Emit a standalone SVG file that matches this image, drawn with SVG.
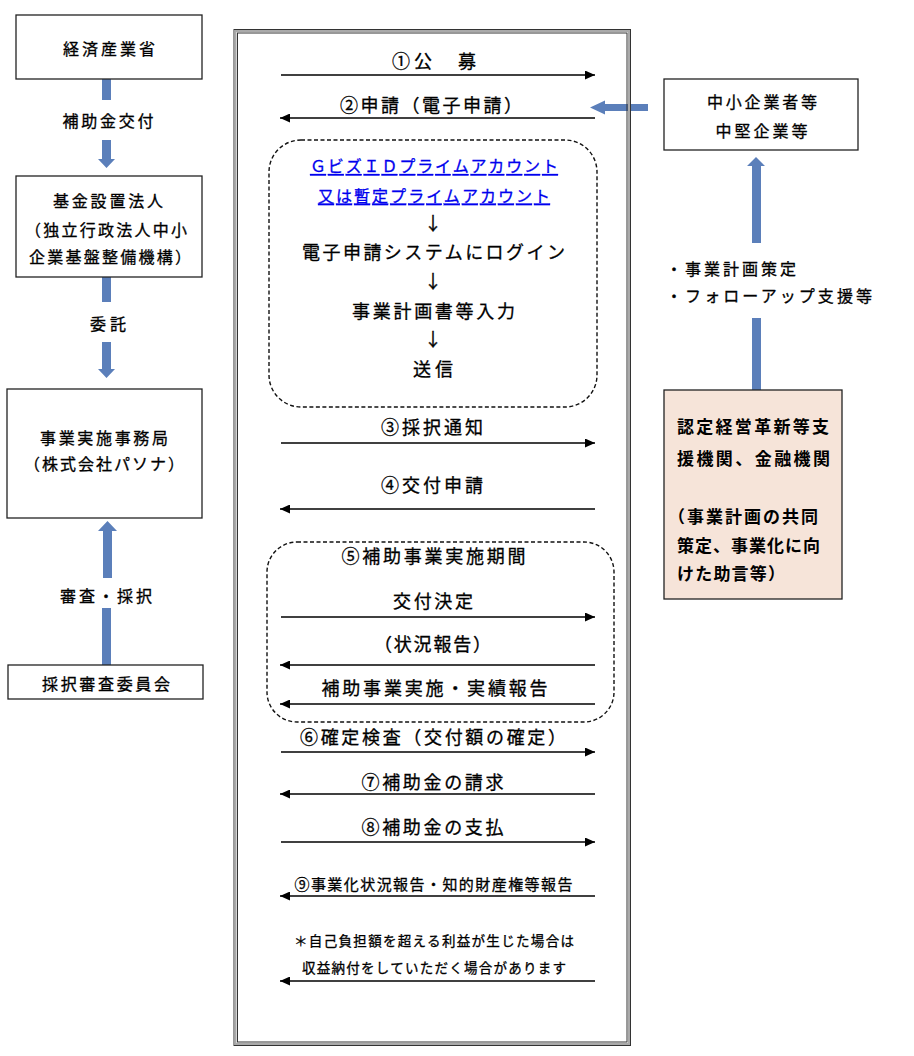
<svg xmlns="http://www.w3.org/2000/svg" width="914" height="1056" viewBox="0 0 914 1056">
<defs>
<marker id="ah" markerUnits="userSpaceOnUse" markerWidth="10" markerHeight="9" refX="10" refY="4.5" orient="auto">
<path d="M0,0 L10,4.5 L0,9 z" fill="#000"/>
</marker>
<style>
text{font-family:"Noto Sans CJK JP","Noto Sans CJK SC",sans-serif;fill:#000;stroke:#000;stroke-width:0.3;dominant-baseline:central;}
.c{text-anchor:middle;}
.s{text-anchor:start;}
.f16{font-size:16px;}
.f18{font-size:18px;}
.f15{font-size:15px;}
.f13{font-size:13.5px;}
.b{font-weight:bold;font-size:17px;stroke-width:0;}
.link{fill:#0000ee;stroke:#0000ee;font-size:16px;text-decoration:underline;}
.box{fill:#fff;stroke:#222;stroke-width:1.3;}
.dash{fill:none;stroke:#111;stroke-width:1.4;stroke-dasharray:4 2.5;}
.ln{stroke:#000;stroke-width:1.3;fill:none;marker-end:url(#ah);}
.blue{fill:#5b7fba;}
</style>
</defs>
<rect width="914" height="1056" fill="#fff"/>

<g id="connectors">
<rect class="blue" x="102" y="79" width="9" height="21"/>
<polygon class="blue" points="102,140 111,140 111,159 115,159 106.5,168 98,159 102,159"/>
<rect class="blue" x="102" y="276" width="9" height="26"/>
<polygon class="blue" points="102,342 111,342 111,369 115,369 106.5,378 98,369 102,369"/>
<polygon class="blue" points="103,578 112,578 112,531 117,531 107.5,521 98,531 103,531"/>
<rect class="blue" x="102" y="608" width="9" height="57"/>
<polygon class="blue" points="752,243 761,243 761,166 765,166 756,157 747,166 752,166"/>
<rect class="blue" x="752" y="318" width="9" height="72"/>
<polygon class="blue" points="648,104 605,104 605,100.5 590,107.5 605,114.5 605,111 648,111"/>
<line class="ln" x1="281" y1="75" x2="595" y2="75"/>
<line class="ln" x1="595" y1="118" x2="280" y2="118"/>
<line class="ln" x1="281" y1="443" x2="595" y2="443"/>
<line class="ln" x1="595" y1="509" x2="280" y2="509"/>
<line class="ln" x1="281" y1="617" x2="595" y2="617"/>
<line class="ln" x1="595" y1="665" x2="280" y2="665"/>
<line class="ln" x1="595" y1="704" x2="280" y2="704"/>
<line class="ln" x1="281" y1="752" x2="595" y2="752"/>
<line class="ln" x1="595" y1="794" x2="280" y2="794"/>
<line class="ln" x1="281" y1="842" x2="595" y2="842"/>
<line class="ln" x1="595" y1="896" x2="280" y2="896"/>
<line class="ln" x1="595" y1="981" x2="280" y2="981"/>
</g>

<g id="frame">
<rect x="234" y="29.5" width="396.5" height="1016" fill="none" stroke="#333" stroke-width="1"/>
<rect x="235.5" y="31" width="393.5" height="1013" fill="none" stroke="#aaa" stroke-width="2"/>
<rect x="237.5" y="33" width="389.5" height="1009" fill="none" stroke="#333" stroke-width="1"/>
</g>

<g id="meti">
<rect class="box" x="16" y="15" width="186" height="64"/>
<text class="c f16" x="109" y="48" textLength="92">経済産業省</text>
</g>
<g id="label-hojokin">
<text class="c f16" x="108" y="120" textLength="91">補助金交付</text>
</g>
<g id="kikin">
<rect class="box" x="16" y="176" width="186" height="101"/>
<text class="c f16" x="108" y="200" textLength="110">基金設置法人</text>
<text class="c f16" x="106" y="229" textLength="162">（独立行政法人中小</text>
<text class="c f16" x="110" y="256" textLength="162">企業基盤整備機構）</text>
</g>
<g id="label-itaku">
<text class="c f16" x="108" y="323" textLength="36">委託</text>
</g>
<g id="jimukyoku">
<rect class="box" x="7" y="389" width="195" height="129"/>
<text class="c f16" x="104" y="437" textLength="128">事業実施事務局</text>
<text class="c f16" x="104" y="463" textLength="160">（株式会社パソナ）</text>
</g>
<g id="label-shinsa">
<text class="c f16" x="106" y="595" textLength="92">審査・採択</text>
</g>
<g id="iinkai">
<rect class="box" x="8" y="665" width="195" height="34"/>
<text class="c f16" x="106" y="683" textLength="128">採択審査委員会</text>
</g>

<g id="chusho">
<rect class="box" x="664" y="79" width="194" height="71"/>
<text class="c f16" x="762" y="101" textLength="110">中小企業者等</text>
<text class="c f16" x="761.5" y="129.5" textLength="92">中堅企業等</text>
</g>
<g id="label-shien">
<text class="s f16" x="666" y="268" textLength="130">・事業計画策定</text>
<text class="s f16" x="666" y="295" textLength="206">・フォローアップ支援等</text>
</g>
<g id="nintei">
<rect x="664" y="390" width="178" height="209" fill="#f6e4d9" stroke="#222" stroke-width="1.3"/>
<text class="s b" x="677" y="425.5" textLength="152">認定経営革新等支</text>
<text class="s b" x="677" y="457" textLength="153">援機関、金融機関</text>
<text class="s b" x="668" y="515" textLength="150">（事業計画の共同</text>
<text class="s b" x="677" y="544.5" textLength="143">策定、事業化に向</text>
<text class="s b" x="677" y="572.5" textLength="108">けた助言等）</text>
</g>

<g id="step1">
<text class="c f18" x="434" y="59.5" textLength="84">①公　募</text>
</g>
<g id="step2">
<text class="c f18" x="431" y="104" textLength="182">②申請（電子申請）</text>
</g>
<g id="online">
<rect class="dash" x="269" y="140" width="328" height="267" rx="32" ry="32"/>
<text class="c link" x="434" y="165" textLength="248">ＧビズＩＤプライムアカウント</text>
<text class="c link" x="434" y="194.5" textLength="232">又は暫定プライムアカウント</text>
<text class="c f18" x="433" y="222">↓</text>
<text class="c f18" x="433.5" y="251" textLength="263">電子申請システムにログイン</text>
<text class="c f18" x="433" y="280">↓</text>
<text class="c f18" x="433.5" y="310" textLength="163">事業計画書等入力</text>
<text class="c f18" x="433" y="338">↓</text>
<text class="c f18" x="433" y="368" textLength="40">送信</text>
</g>
<g id="step3">
<text class="c f18" x="432" y="426" textLength="102">③採択通知</text>
</g>
<g id="step4">
<text class="c f18" x="432" y="483.5" textLength="102">④交付申請</text>
</g>
<g id="step5">
<rect class="dash" x="267" y="542" width="347" height="180" rx="30" ry="30"/>
<text class="c f18" x="433.5" y="555" textLength="184">⑤補助事業実施期間</text>
<text class="c f18" x="433" y="600" textLength="80">交付決定</text>
<text class="c f18" x="432.5" y="643" textLength="117">（状況報告）</text>
<text class="c f18" x="434.5" y="687" textLength="226">補助事業実施・実績報告</text>
</g>
<g id="step6">
<text class="c f18" x="433" y="736" textLength="266">⑥確定検査（交付額の確定）</text>
</g>
<g id="step7">
<text class="c f18" x="432.5" y="781" textLength="142">⑦補助金の請求</text>
</g>
<g id="step8">
<text class="c f18" x="432.5" y="826" textLength="142">⑧補助金の支払</text>
</g>
<g id="step9">
<text class="c f15" x="433.5" y="883.5" textLength="278">⑨事業化状況報告・知的財産権等報告</text>
</g>
<g id="note">
<text class="c f13" x="434" y="940" textLength="280">＊自己負担額を超える利益が生じた場合は</text>
<text class="c f13" x="434" y="966.5" textLength="264">収益納付をしていただく場合があります</text>
</g>
</svg>
